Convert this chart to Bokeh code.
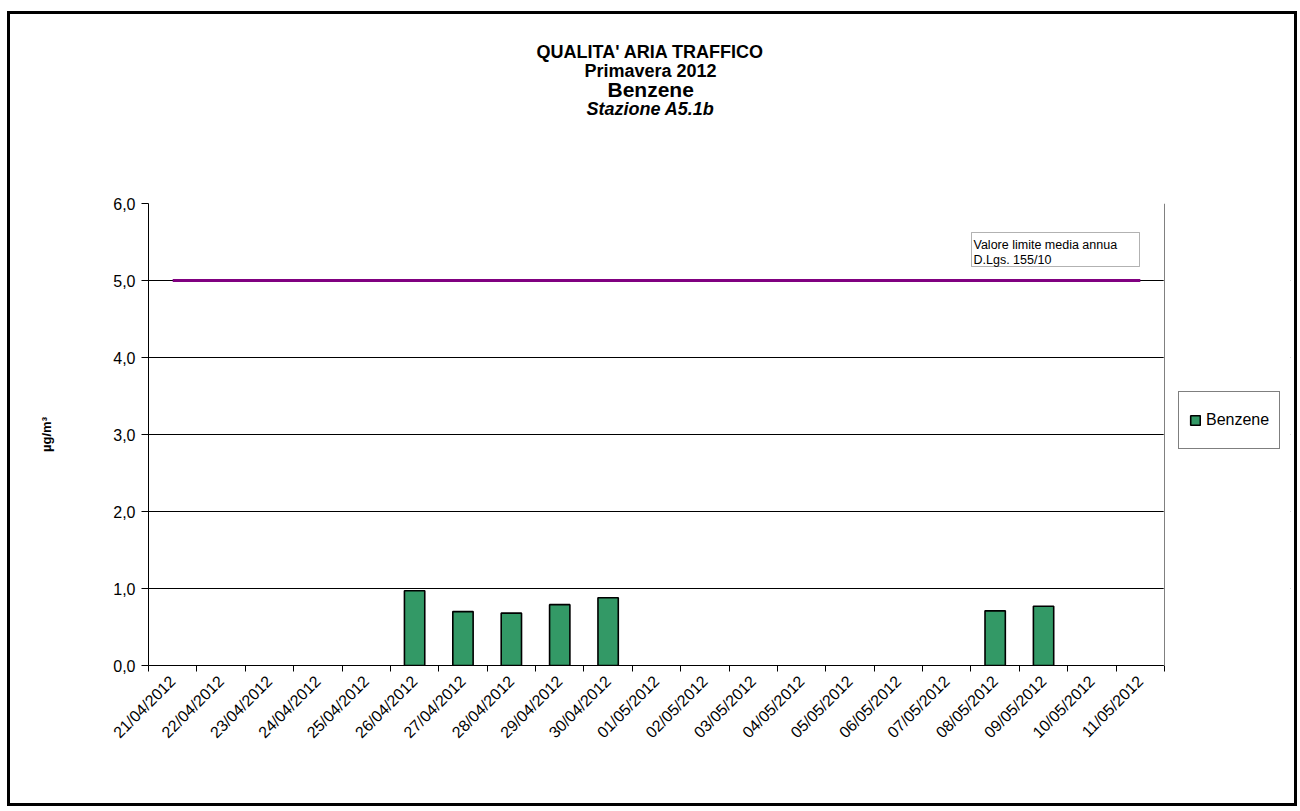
import math
import numpy as np
from bokeh.plotting import figure
from bokeh.models import (Range1d, FixedTicker, CustomJSTickFormatter, Label, BoxAnnotation,
                          Legend, LegendItem, ColumnDataSource, Title, Span, Grid)
from bokeh.embed import file_html
from bokeh.resources import INLINE

# ---- data ----
dates = ["21/04/2012", "22/04/2012", "23/04/2012", "24/04/2012", "25/04/2012",
         "26/04/2012", "27/04/2012", "28/04/2012", "29/04/2012", "30/04/2012",
         "01/05/2012", "02/05/2012", "03/05/2012", "04/05/2012", "05/05/2012",
         "06/05/2012", "07/05/2012", "08/05/2012", "09/05/2012", "10/05/2012",
         "11/05/2012"]
benzene = [None, None, None, None, None, 0.97, 0.70, 0.68, 0.79, 0.88,
           None, None, None, None, None, None, None, 0.71, 0.77, None, None]
limite = [5.0, 5.0, 5.0, 5.0, 5.0, 5.0, 5.0, 5.0, 5.0, 5.0, 5.0,
          5.0, 5.0, 5.0, 5.0, 5.0, 5.0, 5.0, 5.0, 5.0, 5.0]
y_ticks = [0, 1, 2, 3, 4, 5, 6]
grid_ticks = [1, 2, 3, 4, 5]
top_tick = [6]
title_lines = ["QUALITA' ARIA TRAFFICO", "Primavera 2012", "Benzene", "Stazione A5.1b"]
limit_text = ["Valore limite media annua", "D.Lgs. 155/10"]

FONT = "Liberation Sans"
n = len(dates)
xc = [i + 0.5 for i in range(n)]
src = ColumnDataSource(dict(
    x=xc,
    top=[np.nan if v is None else v for v in benzene],
    lim=limite,
))

# canvas 1290x795 drawn at (10, 14) inside a 3px border
W, H = 1290, 795
ML, MR, MT, MB = 138, 10, 189, 144
PLOT_W = 1016                      # width of the plot area (categories 0..n)
FRAME_W = W - ML - MR              # frame extends to the right to host the legend
x_end = n * FRAME_W / PLOT_W

p = figure(width=W, height=H, output_backend="svg", toolbar_location=None,
           x_range=Range1d(0, x_end), y_range=Range1d(0, 6),
           min_border_left=ML, min_border_right=MR, min_border_top=MT, min_border_bottom=MB)
p.margin = (11, 0, 0, 7)
p.styles = {"border": "3px solid black"}
p.background_fill_color = "white"
p.border_fill_color = "white"
p.outline_line_color = None

# grid
p.xgrid.visible = False
p.ygrid.ticker = FixedTicker(ticks=grid_ticks)
p.ygrid.grid_line_color = "black"
p.ygrid.grid_line_width = 1
# plot-area top edge (grey) as a grid line
p.add_layout(Grid(dimension=1, ticker=FixedTicker(ticks=top_tick),
                  grid_line_color="#808080", grid_line_width=1))

# bars
bars = p.vbar(x="x", top="top", bottom=0, width=0.42, source=src,
              fill_color="#339966", line_color="black", line_width=1.6)
# limit line
p.line(x="x", y="lim", source=src, line_color="#800080", line_width=3)

# white cover right of the plot area, then the plot-area right edge
p.add_layout(BoxAnnotation(left=n, fill_color="white", fill_alpha=1,
                           line_color="white", line_width=3))
p.add_layout(Span(location=n, dimension="height", line_color="#808080", line_width=1))

# y axis
ya = p.yaxis[0]
ya.ticker = FixedTicker(ticks=y_ticks)
ya.formatter = CustomJSTickFormatter(code="return tick.toFixed(1).replace('.', ',');")
ya.major_tick_out = 7
ya.major_tick_in = 0
ya.minor_tick_out = 0
ya.minor_tick_in = 0
ya.axis_line_color = "black"
ya.major_tick_line_color = "black"
ya.major_label_text_font = FONT
ya.major_label_text_font_size = "16px"
ya.major_label_text_color = "black"
ya.major_label_standoff = 6
ya.axis_label = "µg/m³"
ya.axis_label_text_font = FONT
ya.axis_label_text_font_style = "bold"
ya.axis_label_text_font_size = "13px"
ya.axis_label_text_color = "black"
ya.axis_label_standoff = 56

# x axis
xa = p.xaxis[0]
xa.bounds = (0, n)
xa.ticker = FixedTicker(ticks=xc, minor_ticks=list(range(n + 1)))
xa.formatter = CustomJSTickFormatter(args=dict(labels=dates),
                                     code="return labels[Math.floor(tick)];")
xa.major_tick_out = 0
xa.major_tick_in = 0
xa.minor_tick_out = 6
xa.minor_tick_in = 0
xa.minor_tick_line_color = "black"
xa.axis_line_color = "black"
xa.major_label_orientation = math.pi / 4
xa.major_label_text_font = FONT
xa.major_label_text_font_size = "16px"
xa.major_label_text_color = "black"
xa.major_label_standoff = 7

# legend (to the right of the plot area)
legend = Legend(items=[LegendItem(label="Benzene", renderers=[bars])],
                location=(PLOT_W + 14, 216), orientation="vertical")
legend.border_line_color = "black"
legend.border_line_width = 1
legend.background_fill_color = "white"
legend.background_fill_alpha = 1
legend.label_text_font = FONT
legend.label_text_font_size = "16px"
legend.label_text_color = "black"
legend.glyph_width = 12
legend.glyph_height = 12
legend.label_standoff = 5
legend.padding = 10
legend.label_height = 36
legend.margin = 0
p.add_layout(legend, "center")

# limit annotation box
p.add_layout(BoxAnnotation(left=823, right=991, bottom=399, top=433,
                           left_units="screen", right_units="screen",
                           bottom_units="screen", top_units="screen",
                           fill_alpha=0, line_color="black", line_width=1, level="overlay"))
for i, t in enumerate(limit_text):
    p.add_layout(Label(x=825, y=421 - i * 15, x_units="screen", y_units="screen", text=t,
                       text_font=FONT, text_font_size="12.5px", text_color="black",
                       text_baseline="alphabetic"))

# titles (added nearest-first); first one is an empty spacer
p.add_layout(Title(text=" ", text_font_size="1px", standoff=82), "above")
title_specs = [(title_lines[3], "18px", "bold italic", 0, 438),
               (title_lines[2], "21px", "bold", -8, 459),
               (title_lines[1], "18px", "bold", -2, 436),
               (title_lines[0], "18px", "bold", -5, 388)]
for t, fs, st, so, off in title_specs:
    p.add_layout(Title(text=t, align="left", offset=off, standoff=so,
                       text_font=FONT, text_font_size=fs, text_font_style=st,
                       text_color="black"), "above")

open("out.html", "w").write(file_html(p, INLINE))
